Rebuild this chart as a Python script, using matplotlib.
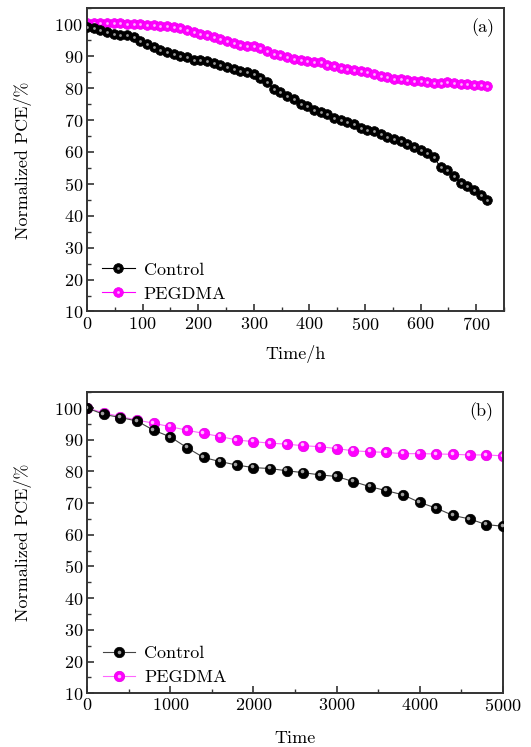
import numpy as np
import matplotlib
matplotlib.use('Agg')
import matplotlib.pyplot as plt
from matplotlib.ticker import MultipleLocator
from matplotlib.legend_handler import HandlerTuple
from matplotlib.transforms import offset_copy

plt.rcParams['font.family'] = ['cmr10', 'DejaVu Serif']
plt.rcParams['mathtext.fontset'] = 'cm'
plt.rcParams['axes.formatter.use_mathtext'] = True
plt.rcParams['font.size'] = 13

# (a) aging in hours, one point every 12 h
t_a = np.arange(0, 721, 12)
control_a = [99.2, 98.8, 98.3, 97.4, 96.9, 96.6, 96.5, 96.0, 94.6, 93.9,
             92.9, 91.9, 91.3, 90.6, 90.1, 89.7, 88.9, 88.7, 88.4, 87.7,
             87.1, 86.6, 85.9, 85.3, 85.0, 84.4, 83.0, 81.8, 79.8, 78.7,
             77.6, 76.6, 75.1, 74.3, 73.2, 72.5, 71.8, 70.7, 69.9, 69.3,
             68.8, 67.6, 66.7, 66.4, 65.5, 64.6, 64.1, 63.4, 62.6, 61.5,
             60.7, 59.7, 58.3, 55.2, 54.2, 52.4, 50.3, 49.2, 48.0, 46.4,
             44.8]
pegdma_a = [100.5, 100.4, 100.4, 100.3, 100.3, 100.3, 100.2, 100.1, 100.0, 99.8,
            99.7, 99.5, 99.3, 99.0, 98.7, 98.1, 97.6, 97.0, 96.6, 96.0,
            95.4, 94.7, 94.0, 93.4, 93.2, 93.1, 92.6, 91.5, 90.8, 90.2,
            89.7, 89.1, 88.7, 88.4, 88.2, 88.1, 87.1, 86.8, 86.4, 86.0,
            85.6, 85.3, 84.9, 84.4, 83.9, 83.3, 82.9, 82.7, 82.4, 82.1,
            82.1, 81.9, 81.7, 81.7, 81.9, 81.6, 81.4, 81.2, 81.0, 80.8,
            80.5]

# (b) long time aging, one point every 200
t_b = np.arange(0, 5001, 200)
control_b = [100, 98.0, 97.0, 95.9, 93.0, 90.9, 87.5, 84.4, 83.1, 82.0,
             81.2, 80.9, 80.2, 79.6, 78.9, 78.4, 76.8, 75.2, 73.9, 72.6,
             70.2, 68.4, 66.1, 65.0, 63.2, 62.7]
pegdma_b = [100, 98.5, 97.3, 96.2, 95.2, 94.1, 93.0, 92.0, 91.0, 89.9,
            89.4, 88.9, 88.6, 88.1, 87.8, 87.2, 86.5, 86.2, 86.0, 85.6,
            85.6, 85.5, 85.4, 85.2, 85.2, 84.9]

fig = plt.figure(figsize=(5.31, 7.47), dpi=100)
ax1 = fig.add_axes([0.164, 0.583, 0.785, 0.406])
ax2 = fig.add_axes([0.164, 0.072, 0.783, 0.403])

spine_c = '#333333'


def style(ax, xmaj, xmin):
    for s in ax.spines.values():
        s.set_linewidth(1.4)
        s.set_color(spine_c)
    ax.xaxis.set_major_locator(MultipleLocator(xmaj))
    ax.xaxis.set_minor_locator(MultipleLocator(xmin))
    ax.yaxis.set_major_locator(MultipleLocator(10))
    ax.yaxis.set_minor_locator(MultipleLocator(5))
    ax.tick_params(which='major', direction='in', length=5, width=1.2, color=spine_c, pad=3)
    ax.tick_params(which='minor', direction='in', length=3, width=1.0, color=spine_c)
    ax.set_ylim(10, 105)
    ax.set_ylabel('Normalized PCE/%', labelpad=16)


def add_legend(ax, h, pad, dx):
    ax.legend(h, ['Control', 'PEGDMA'],
              handler_map={tuple: HandlerTuple(ndivide=1, pad=0)},
              loc='lower left', bbox_to_anchor=(dx, 0.0), frameon=False,
              handlelength=1.8, handletextpad=0.5, labelspacing=0.45, borderaxespad=pad)


# panel (a)
pa, = ax1.plot(t_a, pegdma_a, '-o', color='#ff00ff', lw=0.8, ms=7, mec='#ee00ee', mew=0.5, zorder=2)
pah, = ax1.plot(t_a, pegdma_a, 'o', color='#ffb0ff', ms=2.0, mew=0, zorder=2.1)
ca, = ax1.plot(t_a, control_a, '-o', color='black', lw=0.8, ms=7, mec='black', mew=0.5, zorder=3)
cah, = ax1.plot(t_a, control_a, 'o', color='#9a9a9a', ms=2.0, mew=0, zorder=3.1)
style(ax1, 100, 50)
ax1.set_xlim(0, 750)
ax1.set_xlabel('Time/h', labelpad=9)
ax1.text(0.977, 0.967, '(a)', transform=ax1.transAxes, ha='right', va='top')
add_legend(ax1, [(ca, cah), (pa, pah)], 0.15, 0.012)

# panel (b)
shift = offset_copy(ax2.transData, fig=fig, x=-1.3, y=1.3, units='dots')
pb, = ax2.plot(t_b, pegdma_b, '-o', color='#ff66ff', lw=0.8, ms=7.5, mfc='#ff00ff', mec='#e000e0', mew=0.5, zorder=2)
pbh, = ax2.plot(t_b, pegdma_b, 'o', color='#ffb8ff', ms=2.6, mew=0, zorder=2.1, transform=shift)
cb, = ax2.plot(t_b, control_b, '-o', color='#444444', lw=0.8, ms=7.5, mfc='black', mec='black', mew=0.5, zorder=3)
cbh, = ax2.plot(t_b, control_b, 'o', color='#a0a0a0', ms=2.6, mew=0, zorder=3.1, transform=shift)
style(ax2, 1000, 500)
ax2.set_xlim(0, 5000)
ax2.set_xlabel('Time', labelpad=12)
ax2.text(0.977, 0.967, '(b)', transform=ax2.transAxes, ha='right', va='top')
add_legend(ax2, [(cb, cbh), (pb, pbh)], 0.05, 0.018)

fig.savefig('out.png', dpi=100)
